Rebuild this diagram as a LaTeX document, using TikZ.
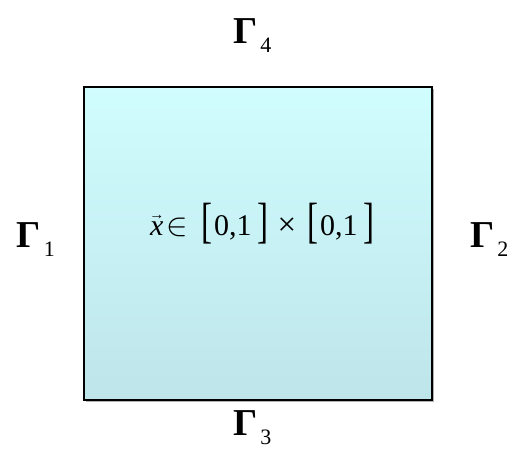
\documentclass[tikz,border=0pt]{standalone}
\usepackage{fontspec}
\setmainfont{Liberation Serif}
\usepackage{graphicx}
\definecolor{boxtop}{HTML}{D0FDFE}
\definecolor{boxbot}{HTML}{BEE5EA}
\begin{document}
\begin{tikzpicture}[x=1pt,y=-1pt,
  gam/.style={anchor=base west,inner sep=0pt,font=\fontsize{38}{38}\selectfont\bfseries},
  dom/.style={draw=black,line width=2pt,top color=boxtop,bottom color=boxbot,shading angle=0},
  eq/.style={anchor=base west,inner sep=0pt,font=\fontsize{30}{30}\selectfont}]
\useasboundingbox (0,0) rectangle (508,448);
\newcommand{\subidx}[1]{\kern3pt\raisebox{-9.5pt}{\fontsize{22}{22}\mdseries\selectfont #1}}
\newcommand{\bigbr}[1]{\raisebox{-2pt}{\scalebox{1.1}[1.65]{#1}}}
\fill[gray!60] (86,89) rectangle (434,402);
\path[dom] (84,87) rectangle (432,400);
\node[draw=none] (box) at (258,243.5) {};
\node[gam] (g1) at (16.5,247) {Γ\subidx{1}};
\node[gam] (g2) at (470,247) {Γ\subidx{2}};
\node[gam] (g3) at (233,435) {Γ\subidx{3}};
\node[gam] (g4) at (233,43) {Γ\subidx{4}};
\node[eq] (eqn) at (150,235) {\ooalign{\itshape x\cr\hidewidth\raisebox{0.52em}{\fontsize{15}{15}\selectfont →}\hidewidth\cr}\kern3pt\scalebox{1.3}{$\in$}\kern13pt\bigbr{[}\kern2pt0,1\kern6pt\bigbr{]}\kern9pt\scalebox{1.1}{×}\kern11pt\bigbr{[}\kern2pt0,1\kern6pt\bigbr{]}};
\end{tikzpicture}
\end{document}
